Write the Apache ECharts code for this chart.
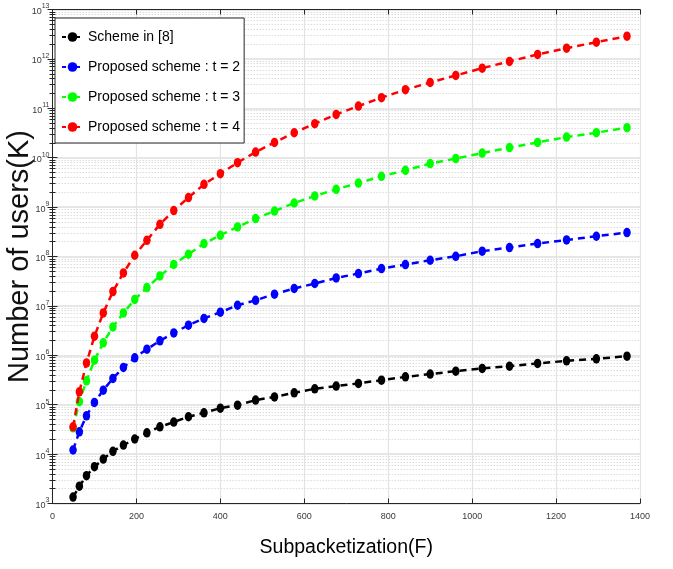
<!DOCTYPE html>
<html>
<head>
<meta charset="utf-8">
<script src="https://cdn.jsdelivr.net/npm/echarts@6/dist/echarts.min.js"></script>
<style>html,body{margin:0;padding:0;background:#fff;}#c{width:673px;height:569px;}</style>
</head>
<body>
<div id="c"></div>
<script>
// Subpacketization F (x values)
var subpacketization = [49, 64, 81, 100, 121, 144, 169, 196, 225, 256, 289, 324, 361, 400, 441, 484, 529, 576, 625, 676, 729, 784, 841, 900, 961, 1024, 1089, 1156, 1225, 1296, 1369];
// Number of users K
var schemeIn8 = [1350, 2240, 3650, 5550, 7940, 11400, 15200, 20200, 27000, 35700, 44500, 57000, 68600, 85000, 98000, 124000, 144000, 174000, 210000, 238000, 270000, 314000, 366000, 416000, 478000, 542000, 603000, 684000, 772000, 848000, 960000];
var proposedT2 = [12100, 28300, 59700, 111000, 197000, 340000, 568000, 890000, 1330000, 1960000, 2840000, 4070000, 5560000, 7460000, 10300000, 13000000, 17300000, 22500000, 28400000, 36800000, 45200000, 57000000, 68700000, 84000000, 101000000, 128000000, 152000000, 183000000, 216000000, 257000000, 305000000];
var proposedT3 = [34000, 115000, 304000, 798000, 1790000, 3760000, 7200000, 13500000, 23500000, 40400000, 69000000, 111000000, 183000000, 269000000, 396000000, 585000000, 830000000, 1210000000, 1680000000, 2290000000, 3070000000, 4200000000, 5550000000, 7600000000, 9600000000, 12400000000, 16000000000, 20400000000, 26200000000, 32100000000, 40600000000];
var proposedT4 = [35700, 182000, 700000, 2440000, 7200000, 19500000, 46500000, 106000000, 213000000, 449000000, 850000000, 1560000000, 2890000000, 4760000000, 7940000000, 13000000000, 20400000000, 32000000000, 48900000000, 75300000000, 111000000000, 164000000000, 238000000000, 334000000000, 462000000000, 650000000000, 890000000000, 1230000000000, 1650000000000, 2180000000000, 2880000000000];
var seriesNames = ['Scheme in [8]', 'Proposed scheme : t = 2', 'Proposed scheme : t = 3', 'Proposed scheme : t = 4'];
var seriesColors = ['#000000', '#0000ff', '#00ff00', '#ff0000'];
var seriesValues = [schemeIn8, proposedT2, proposedT3, proposedT4];
var xTicks = [0, 200, 400, 600, 800, 1000, 1200, 1400];

var sansFont = "'Liberation Sans', Arial, sans-serif";
var frameColor = '#262626';
var labelColor = '#3a3a3a';

function pairs(vals) {
  return subpacketization.map(function (f, i) { return [f, vals[i]]; });
}

var series = seriesValues.map(function (vals, i) {
  return {
    name: seriesNames[i],
    type: 'line',
    data: pairs(vals),
    symbol: 'circle',
    symbolSize: [7.5, 9.5],
    showSymbol: true,
    z: 10 + i,
    itemStyle: { color: seriesColors[i] },
    lineStyle: { color: seriesColors[i], width: 2.5, type: [7, 5] },
    emphasis: { disabled: true },
    animation: false
  };
});

var supLabel = {
  show: true,
  margin: 3,
  formatter: function (v) {
    var e = Math.round(Math.log(v) / Math.LN10);
    return '{b|10}{s|' + e + '}';
  },
  rich: {
    b: { fontSize: 9, fontFamily: sansFont, color: labelColor, verticalAlign: 'bottom', lineHeight: 13 },
    s: { fontSize: 7, fontFamily: sansFont, color: labelColor, verticalAlign: 'top', lineHeight: 13 }
  }
};

var option = {
  backgroundColor: '#ffffff',
  animation: false,
  grid: { left: 52.5, right: 33, top: 9.5, bottom: 65.5, containLabel: false, outerBoundsMode: 'none' },
  legend: {
    show: true,
    orient: 'vertical',
    left: 55,
    top: 18,
    padding: [10, 4, 7, 6],
    itemGap: 12,
    itemWidth: 21,
    itemHeight: 12,
    backgroundColor: '#ffffff',
    borderColor: frameColor,
    borderWidth: 1,
    borderRadius: 0,
    selectedMode: false,
    lineStyle: { type: [4, 3] },
    textStyle: { fontFamily: sansFont, fontSize: 14, lineHeight: 18, color: '#000' },
    data: seriesNames
  },
  xAxis: [{
    type: 'value',
    min: xTicks[0],
    max: xTicks[xTicks.length - 1],
    interval: 200,
    position: 'bottom',
    name: 'Subpacketization(F)',
    nameLocation: 'middle',
    nameGap: 34,
    nameMoveOverlap: false,
    nameTextStyle: { fontFamily: sansFont, fontSize: 19.5, color: '#000' },
    axisLine: { show: true, lineStyle: { color: frameColor, width: 1 } },
    axisTick: { show: true, inside: true, length: 5, lineStyle: { color: frameColor } },
    axisLabel: { show: true, margin: 9, fontFamily: sansFont, fontSize: 9, color: labelColor,
      formatter: function (v) { return String(v); } },
    splitLine: { show: true, lineStyle: { color: '#e3e3e3', width: 1.2 } }
  }, {
    type: 'value',
    min: xTicks[0],
    max: xTicks[xTicks.length - 1],
    interval: 200,
    position: 'top',
    axisLine: { show: true, lineStyle: { color: frameColor, width: 1 } },
    axisTick: { show: true, inside: true, length: 5, lineStyle: { color: frameColor } },
    axisLabel: { show: false },
    splitLine: { show: false }
  }],
  yAxis: [{
    type: 'log',
    logBase: 10,
    min: 1e3,
    max: 1e13,
    interval: 1,
    position: 'left',
    name: 'Number of users(K)',
    nameLocation: 'middle',
    nameGap: 18,
    nameRotate: 90,
    nameMoveOverlap: false,
    nameTextStyle: { fontFamily: sansFont, fontSize: 29, color: '#111' },
    axisLine: { show: true, lineStyle: { color: frameColor, width: 1 } },
    axisTick: { show: true, inside: true, length: 5, lineStyle: { color: frameColor } },
    minorTick: { show: true, splitNumber: 9, length: 3, lineStyle: { color: frameColor } },
    axisLabel: supLabel,
    splitLine: { show: true, lineStyle: { color: '#dedede', width: 1.5 } },
    minorSplitLine: { show: true, lineStyle: { color: '#dcdcdc', width: 1, type: [1.5, 1.5] } }
  }, {
    type: 'log',
    logBase: 10,
    min: 1e3,
    max: 1e13,
    interval: 1,
    position: 'right',
    axisLine: { show: true, lineStyle: { color: frameColor, width: 1 } },
    axisTick: { show: true, inside: true, length: 5, lineStyle: { color: frameColor } },
    minorTick: { show: true, splitNumber: 9, length: 3, lineStyle: { color: frameColor } },
    axisLabel: { show: false },
    splitLine: { show: false }
  }],
  series: series
};

var chart = echarts.init(document.getElementById('c'), null, { renderer: 'canvas' });
chart.setOption(option);
</script>
</body>
</html>
